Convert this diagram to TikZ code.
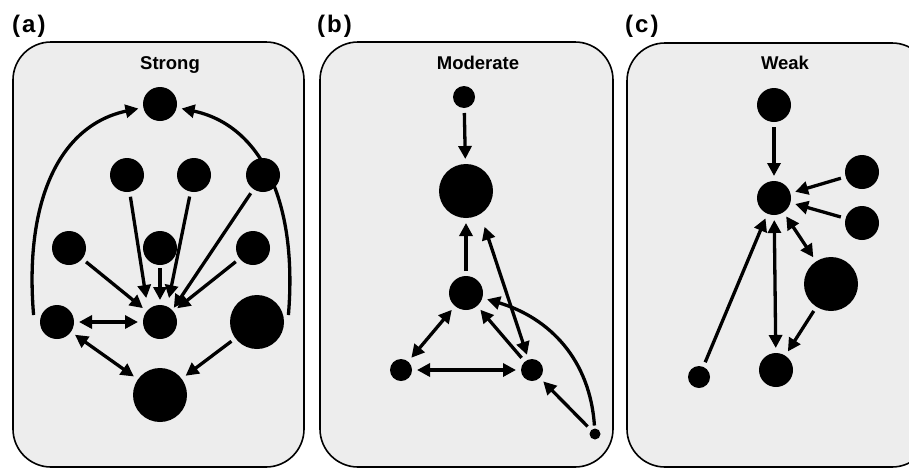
\documentclass[tikz,border=0pt]{standalone}
\usepackage{fontspec}
\setmainfont{Liberation Sans}
\usetikzlibrary{arrows.meta}
\begin{document}
\begin{tikzpicture}[x=1pt,y=-1pt,
  panel/.style={draw=black,line width=1.6pt,fill=black!7,rounded corners=38pt},
  dot/.style={circle,fill=black,inner sep=0pt,outer sep=0pt},
  sm/.style={dot,minimum size=34pt},
  bg/.style={dot,minimum size=54pt},
  tn/.style={dot,minimum size=22pt},
  ti/.style={dot,minimum size=11pt},
  arr/.style={line width=3.3pt,-{Triangle[length=13pt,width=13pt]},shorten >=5pt,shorten <=5pt},
  darr/.style={line width=3.3pt,{Triangle[length=13pt,width=13pt]}-{Triangle[length=13pt,width=13pt]},shorten >=5pt,shorten <=5pt},
  lab/.style={font=\bfseries\fontsize{24}{26}\selectfont,anchor=base west,inner sep=0pt},
  ttl/.style={font=\bfseries\fontsize{18.5}{20}\selectfont,anchor=base,inner sep=0pt}]
\useasboundingbox (0,0) rectangle (909,469);
% panels
\draw[panel] (13,42) rectangle (304,467);
\draw[panel] (320,42) rectangle (613,467);
\draw[panel] (627,43) rectangle (930,467);
\node[lab] (la) at (12,32) {(\kern2pt a\kern2pt)};
\node[lab] (lb) at (317,32) {(\kern2pt b\kern2pt)};
\node[lab] (lc) at (625,32) {(\kern2pt c\kern2pt)};
\node[ttl] (ta) at (170,69) {Strong};
\node[ttl] (tb) at (478,69) {Moderate};
\node[ttl] (tc) at (785,69) {Weak};
% panel a
\node[sm] (at) at (160,104) {};
\node[sm] (ar1) at (127,175) {};
\node[sm] (ar2) at (194,175) {};
\node[sm] (ar3) at (263,175) {};
\node[sm] (aq1) at (69,248) {};
\node[sm] (aq2) at (160,248) {};
\node[sm] (aq3) at (253,248) {};
\node[sm] (ac) at (160,322) {};
\node[sm] (al) at (57,322) {};
\node[bg] (ar) at (257,322) {};
\node[bg] (ab) at (160,395) {};
\draw[arr] ([xshift=-6pt,yshift=2pt]al.west) .. controls (24,200) and (60,125) .. (at);
\draw[arr] ([xshift=4pt,yshift=2pt]ar.east) .. controls (298,200) and (260,125) .. (at);
\draw[arr] (ar1) -- ([xshift=-13pt,yshift=2pt]ac.north);
\draw[arr] (ar2) -- ([xshift=8pt,yshift=2pt]ac.north);
\draw[arr] (ar3) -- ([xshift=-1pt,yshift=-2pt]ac.north east);
\draw[arr] (aq1) -- (ac);
\draw[arr,shorten <=3pt] (aq2) -- (ac);
\draw[arr] (aq3) -- (ac);
\draw[darr] (al) -- (ac);
\draw[darr] (al) -- (ab);
\draw[arr] (ar) -- (ab);
% panel b
\node[tn] (bt) at (464,97) {};
\node[bg] (bb) at (466,191) {};
\node[sm] (bm) at (466,293) {};
\node[tn] (bl) at (401,370) {};
\node[tn] (br) at (532,370) {};
\node[ti] (bx) at (595,434) {};
\draw[arr] (bt) -- (bb);
\draw[arr] (bm) -- (bb);
\draw[darr] (bm) -- (bl);
\draw[darr] (bl) -- (br);
\draw[arr] (br) -- (bm);
\draw[darr] ([xshift=17pt,yshift=-4pt]bb.south) -- (br);
\draw[arr] (bx) -- (br);
\draw[arr,shorten <=3pt] (bx) .. controls (590,360) and (550,318) .. (bm);
% panel c
\node[sm] (ct) at (774,105) {};
\node[sm] (cc) at (774,198) {};
\node[sm] (cr1) at (862,172) {};
\node[sm] (cr2) at (862,223) {};
\node[bg] (cb) at (831,284) {};
\node[sm] (cd) at (776,370) {};
\node[tn] (cl) at (699,377) {};
\draw[arr] (ct) -- (cc);
\draw[arr] (cr1) -- (cc);
\draw[arr] (cr2) -- (cc);
\draw[darr] (cc) -- (cb);
\draw[darr] (cc) -- (cd);
\draw[arr] (cb) -- (cd);
\draw[arr] (cl) -- (cc);
\end{tikzpicture}
\end{document}
